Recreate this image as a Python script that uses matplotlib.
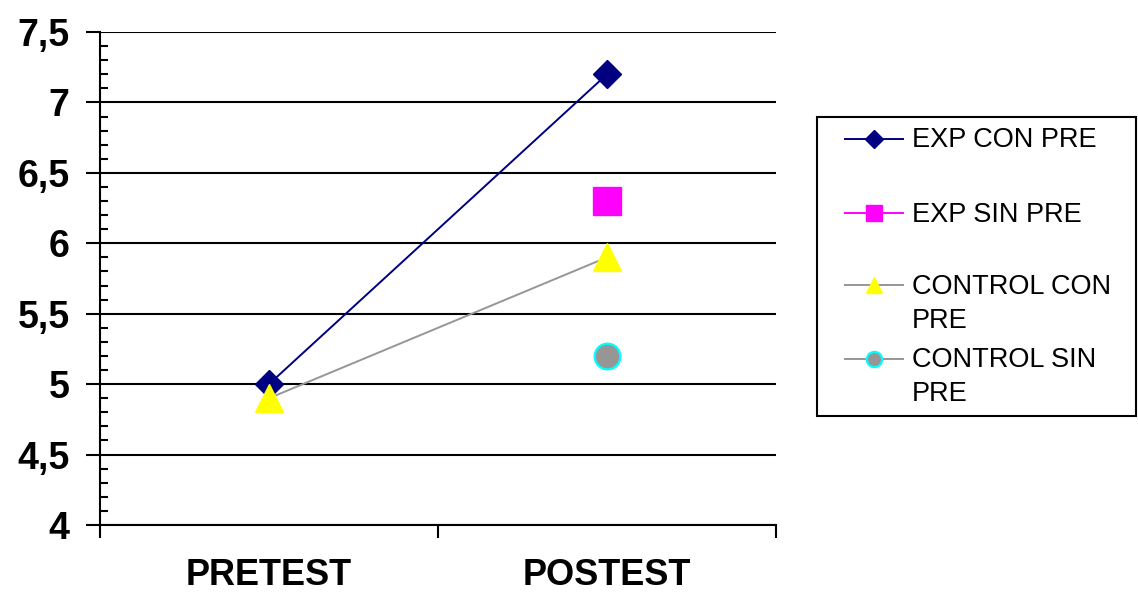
import matplotlib
matplotlib.use("Agg")
import matplotlib.pyplot as plt
import numpy as np
from matplotlib.lines import Line2D
from matplotlib.patches import Rectangle
from matplotlib.ticker import MultipleLocator

plt.rcParams["font.family"] = ["Liberation Sans", "DejaVu Sans"]

categories = ["PRETEST", "POSTEST"]
series_names = ["EXP CON PRE", "EXP SIN PRE", "CONTROL CON\nPRE", "CONTROL SIN\nPRE"]
exp_con_pre = [5.0, 7.2]
exp_sin_pre = [np.nan, 6.3]
control_con_pre = [4.9, 5.9]
control_sin_pre = [np.nan, 5.2]
y_ticks = [4, 4.5, 5, 5.5, 6, 6.5, 7, 7.5]
y_tick_labels = ["4", "4,5", "5", "5,5", "6", "6,5", "7", "7,5"]

series = [exp_con_pre, exp_sin_pre, control_con_pre, control_sin_pre]
styles = [
    dict(color="#000080", marker="D", mfc="#000080", mec="#000080", mew=1),
    dict(color="#FF00FF", marker="s", mfc="#FF00FF", mec="#FF00FF", mew=1),
    dict(color="#969696", marker="^", mfc="#FFFF00", mec="#FFFF00", mew=1),
    dict(color="#969696", marker="o", mfc="#969696", mec="#00FFFF", mew=1.6),
]
plot_ms = [14, 20, 20, 18.5]
legend_ms = [8.7, 12, 12, 11]

W, H = 1138, 600
fig = plt.figure(figsize=(W / 100, H / 100), dpi=100)
ax = fig.add_axes([100 / W, 1 - 525 / H, 676 / W, 493 / H])

x = np.arange(len(categories))
for vals, st, ms in zip(series, styles, plot_ms):
    ax.plot(x, vals, linewidth=1.4, markersize=ms, clip_on=False, zorder=3, **st)

ax.set_xlim(-0.5, 1.5)
ax.set_ylim(4, 7.5)

ax.set_yticks(y_ticks, y_tick_labels, fontsize=27, fontweight="bold")
ax.yaxis.set_minor_locator(MultipleLocator(0.1))
ax.tick_params(axis="y", which="major", direction="out", length=10, width=1.5, pad=12)
ax.tick_params(axis="y", which="minor", direction="in", length=6, width=1.5)
ax.grid(axis="y", which="major", color="black", linewidth=1.5)

ax.set_xticks([-0.5, 0.5, 1.5], ["", "", ""])
ax.set_xticks(x, categories, minor=True, fontsize=26, fontweight="bold")
ax.tick_params(axis="x", which="major", direction="out", length=9, width=1.5)
ax.tick_params(axis="x", which="minor", length=0, pad=24)

for side in ["top", "right"]:
    ax.spines[side].set_visible(False)
for side in ["left", "bottom"]:
    ax.spines[side].set_linewidth(1.5)
    ax.spines[side].set_color("black")

# legend drawn by hand so the marker sits on the first text line
fig.add_artist(Rectangle((817 / W, 1 - 416 / H), (1136 - 817) / W, (416 - 117) / H,
                         transform=fig.transFigure, fill=False, edgecolor="black", linewidth=1.5))
row_y = [138.5, 213, 285, 358.5]
line_gap = 34
for name, st, ms, y in zip(series_names, styles, legend_ms, row_y):
    fig.add_artist(Line2D([845 / W, 874 / W, 903 / W], [1 - y / H] * 3, transform=fig.transFigure,
                          linewidth=1.4, markersize=ms, markevery=[1], **st))
    for i, part in enumerate(name.split("\n")):
        fig.text(912 / W, 1 - (y + 8.7 + i * line_gap) / H, part, fontsize=19.5, va="baseline", ha="left")

fig.savefig("out.png", dpi=100)
